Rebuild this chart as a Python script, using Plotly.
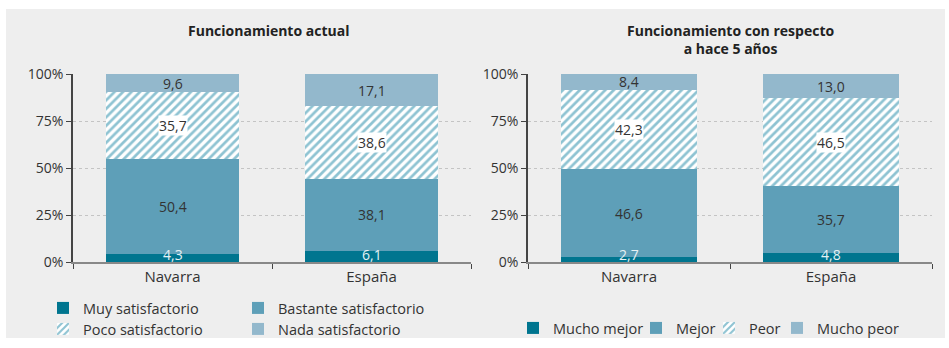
import plotly.graph_objects as go

# Survey data (percent of respondents)
regions = ["Navarra", "España"]

actual_labels = ["Muy satisfactorio", "Bastante satisfactorio", "Poco satisfactorio", "Nada satisfactorio"]
actual_muy = [4.3, 6.1]
actual_bastante = [50.4, 38.1]
actual_poco = [35.7, 38.6]
actual_nada = [9.6, 17.1]

trend_labels = ["Mucho mejor", "Mejor", "Peor", "Mucho peor"]
trend_mucho_mejor = [2.7, 4.8]
trend_mejor = [46.6, 35.7]
trend_peor = [42.3, 46.5]
trend_mucho_peor = [8.4, 13.0]

y_ticks = [0, 25, 50, 75, 100]
y_tick_text = ["0%", "25%", "50%", "75%", "100%"]

# Styling
FONT = "Open Sans"
DARK = "#00758f"
MID = "#5e9fb8"
LIGHT = "#93b8cc"
HATCH = "#1e87a6"
TEXT = "#333333"
BG = "#eeeeee"

fill_styles = [
    dict(color=DARK),
    dict(color=MID),
    dict(color="white", pattern=dict(shape="/", fgcolor=HATCH, bgcolor="white", size=6, solidity=0.45)),
    dict(color=LIGHT),
]
label_colors = ["#e6f1f4", TEXT, TEXT, TEXT]
label_bg = [None, None, "white", None]

# legend slots: left panel uses two rows, right panel one row of four entries
left_legends = ["legend", "legend", "legend2", "legend2"]
right_legends = ["legend3", "legend4", "legend5", "legend6"]

fig = go.Figure()

panels = [
    ("x", "y", actual_labels, [actual_muy, actual_bastante, actual_poco, actual_nada], left_legends),
    ("x2", "y2", trend_labels, [trend_mucho_mejor, trend_mejor, trend_peor, trend_mucho_peor], right_legends),
]

annotations = []
for xa, ya, names, series, legends in panels:
    base = [0.0] * len(regions)
    for i, (name, vals) in enumerate(zip(names, series)):
        fig.add_trace(go.Bar(
            x=regions, y=vals, name=name, xaxis=xa, yaxis=ya,
            marker=dict(line=dict(width=0), **fill_styles[i]),
            width=0.67, legend=legends[i], hoverinfo="skip",
        ))
        for r, v, b in zip(regions, vals, base):
            ann = dict(
                x=r, xref=xa, yref=ya, showarrow=False, xanchor="center",
                text=f"{v:.1f}".replace(".", ","),
                font=dict(family=FONT, size=14, color=label_colors[i]),
            )
            if i == 0:
                # thin bottom segment: sit the label on the baseline
                ann.update(y=b, yanchor="bottom", yshift=-4)
            else:
                ann.update(y=b + v / 2, yanchor="middle")
            if label_bg[i]:
                ann.update(bgcolor=label_bg[i], borderpad=0)
            annotations.append(ann)
        base = [b + v for b, v in zip(base, vals)]

# Panel titles
annotations += [
    dict(x=268 / 949, y=1 - 30 / 348, xref="paper", yref="paper", showarrow=False,
         xanchor="center", yanchor="middle",
         text="<b>Funcionamiento actual</b>", font=dict(family=FONT, size=14, color="#222")),
    dict(x=730 / 949, y=1 - 39.5 / 348, xref="paper", yref="paper", showarrow=False,
         xanchor="center", yanchor="middle",
         text="<b>Funcionamiento con respecto<br>a hace 5 años</b>",
         font=dict(family=FONT, size=14, color="#222")),
]

yaxis_style = dict(
    range=[0, 100], tickvals=y_ticks, ticktext=y_tick_text, ticks="outside", ticklen=5,
    tickcolor="#444", showline=True, linecolor="#444", linewidth=1.5,
    showgrid=True, gridcolor="#c4c4c4", griddash="dot", gridwidth=1,
    zeroline=False, tickfont=dict(family=FONT, size=14, color=TEXT),
    fixedrange=True,
)
xaxis_style = dict(
    type="category", tickson="boundaries", ticks="outside", ticklen=5,
    tickcolor="#444", showline=True, linecolor="#888", linewidth=2,
    showgrid=False, tickfont=dict(family=FONT, size=15, color=TEXT),
    fixedrange=True,
)

legend_common = dict(
    orientation="h", bgcolor="rgba(0,0,0,0)", xanchor="left", yanchor="middle",
    font=dict(family=FONT, size=14.5, color=TEXT), itemclick=False, itemdoubleclick=False,
    xref="paper", yref="paper", itemwidth=30, tracegroupgap=0, traceorder="normal",
)

right_text_x = [553, 676, 749, 817]
right_legend_layout = {
    key: dict(x=(tx - 40) / 949, y=1 - 328 / 348, **legend_common)
    for key, tx in zip(right_legends, right_text_x)
}

fig.update_layout(
    width=949, height=348, margin=dict(l=0, r=0, t=0, b=0, autoexpand=False),
    paper_bgcolor="white", plot_bgcolor=BG,
    barmode="stack", bargap=0.33, showlegend=True,
    xaxis=dict(domain=[73 / 949, 471 / 949], anchor="y", **xaxis_style),
    yaxis=dict(domain=[1 - 262 / 348, 1 - 74 / 348], anchor="x", **yaxis_style),
    xaxis2=dict(domain=[528 / 949, 932 / 949], anchor="y2", **xaxis_style),
    yaxis2=dict(domain=[1 - 262 / 348, 1 - 74 / 348], anchor="x2", **yaxis_style),
    legend=dict(x=43 / 949, y=1 - 308 / 348, entrywidth=150, **legend_common),
    legend2=dict(x=43 / 949, y=1 - 329 / 348, entrywidth=150, **legend_common),
    **right_legend_layout,
    annotations=annotations,
    shapes=[dict(type="rect", xref="paper", yref="paper", layer="below",
                 x0=6 / 949, x1=945 / 949, y0=1 - 338 / 348, y1=1 - 9 / 348,
                 fillcolor=BG, line=dict(width=0))],
)

fig.write_html("out.html")
